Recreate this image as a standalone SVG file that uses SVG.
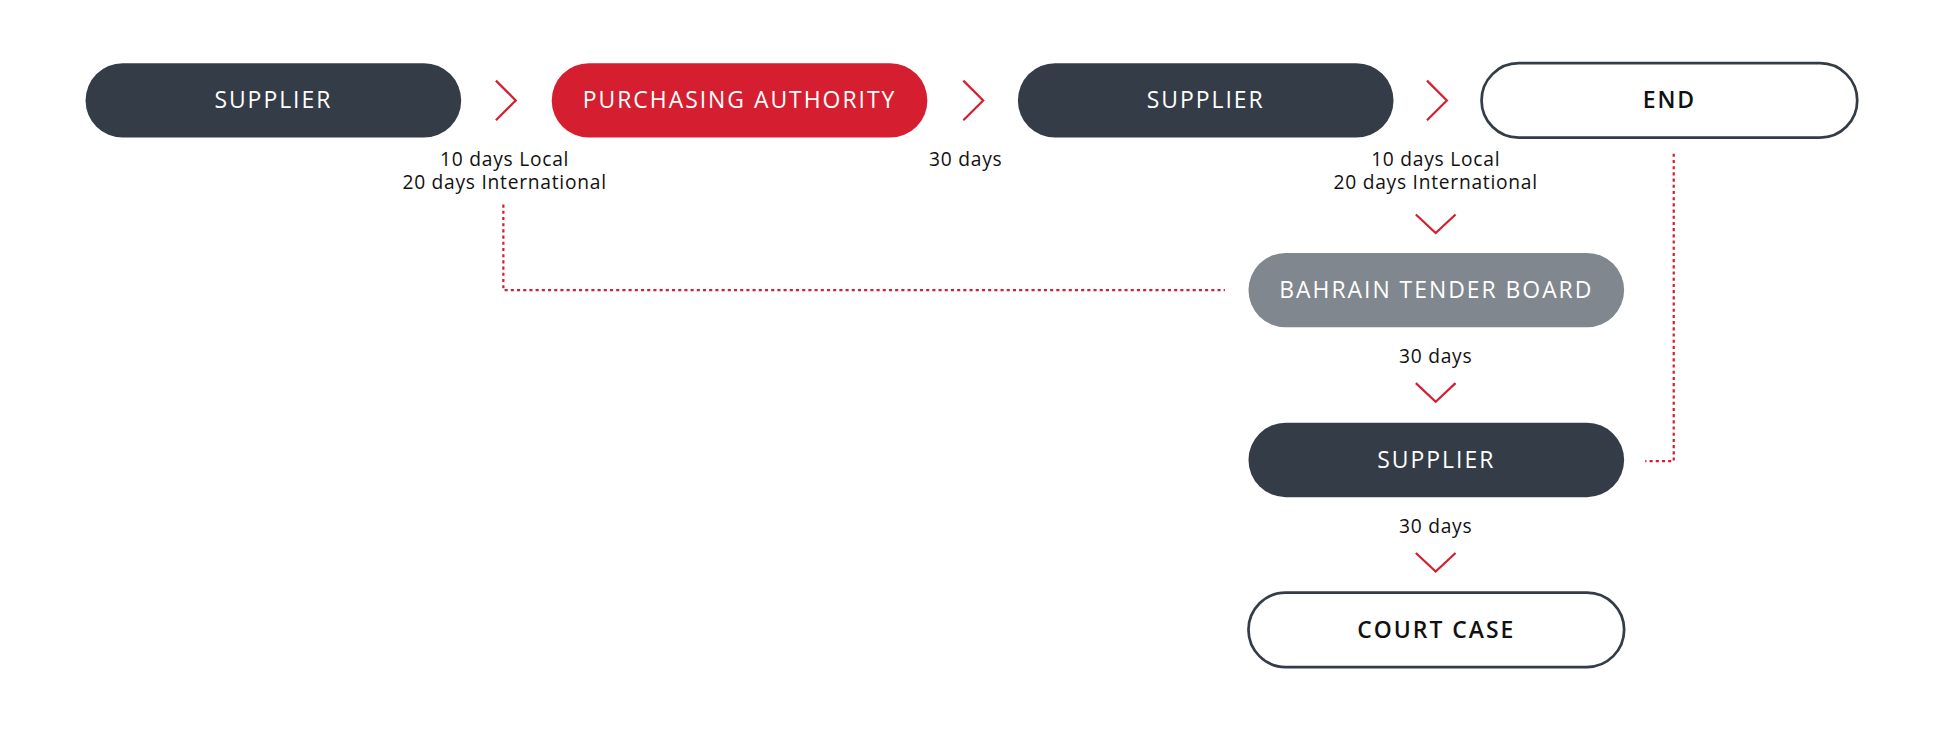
<svg xmlns="http://www.w3.org/2000/svg" width="1944" height="732" viewBox="0 0 1944 732">
<style>
.dark{fill:#343d47}.red{fill:#d51f30}.gray{fill:#80878e}.out{fill:#fff;stroke:#343d47;stroke-width:2.2}
.nt{font-family:"Open Sans",sans-serif;font-size:18.5px;font-weight:500;letter-spacing:1.6px;text-anchor:middle;fill:#fff}
.nt.k{fill:#111;font-weight:600}
.lb{font-family:"Open Sans",sans-serif;font-size:15.5px;text-anchor:middle;fill:#111;letter-spacing:0.6px}
.ch{fill:none;stroke:#d51f30;stroke-width:1.8}
.dot{fill:none;stroke:#d51f30;stroke-width:1.8;stroke-dasharray:2.5 2.5}
</style>
<rect width="1944" height="732" fill="#fff"/>
<g transform="scale(1.2398)">
<g id="n1"><rect class="dark" x="69" y="51" width="303" height="60" rx="30"/><text class="nt" x="220.5" y="87.5">SUPPLIER</text></g>
<g id="n2"><rect class="red" x="445" y="51" width="303" height="60" rx="30"/><text class="nt" x="596.5" y="87.5">PURCHASING AUTHORITY</text></g>
<g id="n3"><rect class="dark" x="821" y="51" width="303" height="60" rx="30"/><text class="nt" x="972.5" y="87.5">SUPPLIER</text></g>
<g id="n4"><rect class="out" x="1195" y="51" width="303" height="60" rx="30"/><text class="nt k" x="1346.5" y="87.5">END</text></g>
<g id="n5"><rect class="gray" x="1007" y="204" width="303" height="60" rx="30"/><text class="nt" x="1158.5" y="240.5">BAHRAIN TENDER BOARD</text></g>
<g id="n6"><rect class="dark" x="1007" y="341" width="303" height="60" rx="30"/><text class="nt" x="1158.5" y="377.5">SUPPLIER</text></g>
<g id="n7"><rect class="out" x="1007" y="478" width="303" height="60" rx="30"/><text class="nt k" x="1158.5" y="514.5">COURT CASE</text></g>
<g id="connectors">
<path class="ch" d="M400 65L416 81L400 97M777 65L793 81L777 97M1151 65L1167 81L1151 97"/>
<path class="ch" d="M1142 173L1158 188L1174 173M1142 309L1158 324L1174 309M1142 446L1158 461L1174 446"/>
<path class="dot" d="M406 165V234H988"/>
<path class="dot" d="M1350 124V372H1327"/>
</g>
<g id="labels">
<text class="lb" x="407" y="133.5">10 days Local</text>
<text class="lb" x="407" y="152.5">20 days International</text>
<text class="lb" x="779" y="133.5">30 days</text>
<text class="lb" x="1158" y="133.5">10 days Local</text>
<text class="lb" x="1158" y="152.5">20 days International</text>
<text class="lb" x="1158" y="293">30 days</text>
<text class="lb" x="1158" y="430">30 days</text>
</g>
</g>
</svg>
